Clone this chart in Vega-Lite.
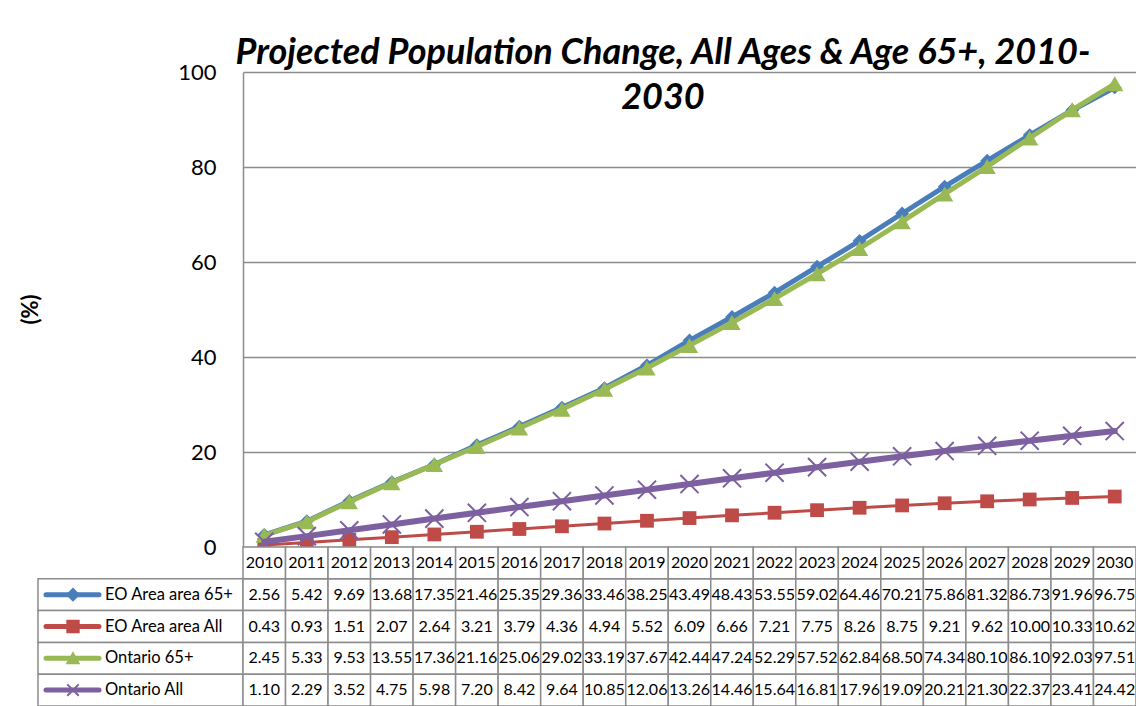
{
  "$schema": "https://vega.github.io/schema/vega-lite/v6.json",
  "padding": {"left": 19, "top": 35, "right": 0, "bottom": 0},
  "config": {"font": "Lato", "view": {"stroke": null}},
  "title": {
    "text": ["Projected Population Change, All Ages & Age 65+, 2010-", "2030"],
    "font": "Lato",
    "fontSize": 36,
    "fontWeight": "bold",
    "fontStyle": "italic",
    "color": "black",
    "anchor": "start",
    "align": "center",
    "frame": "group",
    "dx": 625,
    "lineHeight": 45,
    "offset": -56
  },
  "datasets": {
    "pop": [
      {"year": "2010", "series": "EO Area area 65+", "value": 2.56},
      {"year": "2011", "series": "EO Area area 65+", "value": 5.42},
      {"year": "2012", "series": "EO Area area 65+", "value": 9.69},
      {"year": "2013", "series": "EO Area area 65+", "value": 13.68},
      {"year": "2014", "series": "EO Area area 65+", "value": 17.35},
      {"year": "2015", "series": "EO Area area 65+", "value": 21.46},
      {"year": "2016", "series": "EO Area area 65+", "value": 25.35},
      {"year": "2017", "series": "EO Area area 65+", "value": 29.36},
      {"year": "2018", "series": "EO Area area 65+", "value": 33.46},
      {"year": "2019", "series": "EO Area area 65+", "value": 38.25},
      {"year": "2020", "series": "EO Area area 65+", "value": 43.49},
      {"year": "2021", "series": "EO Area area 65+", "value": 48.43},
      {"year": "2022", "series": "EO Area area 65+", "value": 53.55},
      {"year": "2023", "series": "EO Area area 65+", "value": 59.02},
      {"year": "2024", "series": "EO Area area 65+", "value": 64.46},
      {"year": "2025", "series": "EO Area area 65+", "value": 70.21},
      {"year": "2026", "series": "EO Area area 65+", "value": 75.86},
      {"year": "2027", "series": "EO Area area 65+", "value": 81.32},
      {"year": "2028", "series": "EO Area area 65+", "value": 86.73},
      {"year": "2029", "series": "EO Area area 65+", "value": 91.96},
      {"year": "2030", "series": "EO Area area 65+", "value": 96.75},
      {"year": "2010", "series": "EO Area area All", "value": 0.43},
      {"year": "2011", "series": "EO Area area All", "value": 0.93},
      {"year": "2012", "series": "EO Area area All", "value": 1.51},
      {"year": "2013", "series": "EO Area area All", "value": 2.07},
      {"year": "2014", "series": "EO Area area All", "value": 2.64},
      {"year": "2015", "series": "EO Area area All", "value": 3.21},
      {"year": "2016", "series": "EO Area area All", "value": 3.79},
      {"year": "2017", "series": "EO Area area All", "value": 4.36},
      {"year": "2018", "series": "EO Area area All", "value": 4.94},
      {"year": "2019", "series": "EO Area area All", "value": 5.52},
      {"year": "2020", "series": "EO Area area All", "value": 6.09},
      {"year": "2021", "series": "EO Area area All", "value": 6.66},
      {"year": "2022", "series": "EO Area area All", "value": 7.21},
      {"year": "2023", "series": "EO Area area All", "value": 7.75},
      {"year": "2024", "series": "EO Area area All", "value": 8.26},
      {"year": "2025", "series": "EO Area area All", "value": 8.75},
      {"year": "2026", "series": "EO Area area All", "value": 9.21},
      {"year": "2027", "series": "EO Area area All", "value": 9.62},
      {"year": "2028", "series": "EO Area area All", "value": 10.00},
      {"year": "2029", "series": "EO Area area All", "value": 10.33},
      {"year": "2030", "series": "EO Area area All", "value": 10.62},
      {"year": "2010", "series": "Ontario 65+", "value": 2.45},
      {"year": "2011", "series": "Ontario 65+", "value": 5.33},
      {"year": "2012", "series": "Ontario 65+", "value": 9.53},
      {"year": "2013", "series": "Ontario 65+", "value": 13.55},
      {"year": "2014", "series": "Ontario 65+", "value": 17.36},
      {"year": "2015", "series": "Ontario 65+", "value": 21.16},
      {"year": "2016", "series": "Ontario 65+", "value": 25.06},
      {"year": "2017", "series": "Ontario 65+", "value": 29.02},
      {"year": "2018", "series": "Ontario 65+", "value": 33.19},
      {"year": "2019", "series": "Ontario 65+", "value": 37.67},
      {"year": "2020", "series": "Ontario 65+", "value": 42.44},
      {"year": "2021", "series": "Ontario 65+", "value": 47.24},
      {"year": "2022", "series": "Ontario 65+", "value": 52.29},
      {"year": "2023", "series": "Ontario 65+", "value": 57.52},
      {"year": "2024", "series": "Ontario 65+", "value": 62.84},
      {"year": "2025", "series": "Ontario 65+", "value": 68.50},
      {"year": "2026", "series": "Ontario 65+", "value": 74.34},
      {"year": "2027", "series": "Ontario 65+", "value": 80.10},
      {"year": "2028", "series": "Ontario 65+", "value": 86.10},
      {"year": "2029", "series": "Ontario 65+", "value": 92.03},
      {"year": "2030", "series": "Ontario 65+", "value": 97.51},
      {"year": "2010", "series": "Ontario All", "value": 1.10},
      {"year": "2011", "series": "Ontario All", "value": 2.29},
      {"year": "2012", "series": "Ontario All", "value": 3.52},
      {"year": "2013", "series": "Ontario All", "value": 4.75},
      {"year": "2014", "series": "Ontario All", "value": 5.98},
      {"year": "2015", "series": "Ontario All", "value": 7.20},
      {"year": "2016", "series": "Ontario All", "value": 8.42},
      {"year": "2017", "series": "Ontario All", "value": 9.64},
      {"year": "2018", "series": "Ontario All", "value": 10.85},
      {"year": "2019", "series": "Ontario All", "value": 12.06},
      {"year": "2020", "series": "Ontario All", "value": 13.26},
      {"year": "2021", "series": "Ontario All", "value": 14.46},
      {"year": "2022", "series": "Ontario All", "value": 15.64},
      {"year": "2023", "series": "Ontario All", "value": 16.81},
      {"year": "2024", "series": "Ontario All", "value": 17.96},
      {"year": "2025", "series": "Ontario All", "value": 19.09},
      {"year": "2026", "series": "Ontario All", "value": 20.21},
      {"year": "2027", "series": "Ontario All", "value": 21.30},
      {"year": "2028", "series": "Ontario All", "value": 22.37},
      {"year": "2029", "series": "Ontario All", "value": 23.41},
      {"year": "2030", "series": "Ontario All", "value": 24.42}
    ]
  },
  "columns": 2,
  "spacing": 0,
  "bounds": "flush",
  "concat": [
    {
      "width": 205,
      "height": 475,
      "data": {"values": [{}]},
      "mark": {"type": "point", "opacity": 0},
      "encoding": {}
    },
    {
      "width": 893,
      "height": 475,
      "data": {"name": "pop"},
      "encoding": {
        "x": {"field": "year", "type": "ordinal", "scale": {"type": "point", "padding": 0.5}, "axis": null},
        "y": {
          "field": "value",
          "type": "quantitative",
          "scale": {"domain": [0, 100], "nice": false},
          "axis": {
            "values": [0, 20, 40, 60, 80, 100],
            "grid": true,
            "gridColor": "#8c8c8c",
            "gridWidth": 1.5,
            "domainColor": "#8c8c8c",
            "domainWidth": 1.5,
            "ticks": false,
            "labelFontSize": 22,
            "labelColor": "black",
            "labelPadding": 27,
            "title": "(%)",
            "titleFontSize": 22,
            "titleFontWeight": "bold",
            "titleColor": "black",
            "titleX": -213,
            "titleY": 237,
            "titleBaseline": "middle",
            "titleAngle": 270
          }
        }
      },
      "layer": [
        {
          "transform": [{"filter": "datum.series == 'EO Area area 65+'"}],
          "mark": {"type": "line", "color": "#4a7ebb", "strokeWidth": 5, "strokeCap": "round", "strokeJoin": "round"}
        },
        {
          "transform": [{"filter": "datum.series == 'EO Area area 65+'"}],
          "mark": {"type": "point", "shape": "diamond", "filled": true, "opacity": 1, "color": "#4a7ebb", "size": 190}
        },
        {
          "transform": [{"filter": "datum.series == 'EO Area area All'"}],
          "mark": {"type": "line", "color": "#be4b48", "strokeWidth": 3, "strokeCap": "round", "strokeJoin": "round"}
        },
        {
          "transform": [{"filter": "datum.series == 'EO Area area All'"}],
          "mark": {"type": "point", "shape": "square", "filled": true, "opacity": 1, "color": "#be4b48", "size": 190}
        },
        {
          "transform": [{"filter": "datum.series == 'Ontario 65+'"}],
          "mark": {"type": "line", "color": "#98b954", "strokeWidth": 5, "strokeCap": "round", "strokeJoin": "round"}
        },
        {
          "transform": [{"filter": "datum.series == 'Ontario 65+'"}],
          "mark": {"type": "point", "shape": "triangle-up", "filled": true, "opacity": 1, "color": "#98b954", "size": 300}
        },
        {
          "transform": [{"filter": "datum.series == 'Ontario All'"}],
          "mark": {"type": "line", "color": "#7d60a0", "strokeWidth": 6, "strokeCap": "round", "strokeJoin": "round"}
        },
        {
          "transform": [{"filter": "datum.series == 'Ontario All'"}],
          "mark": {"type": "point", "shape": "M-1,-1L1,1M-1,1L1,-1", "filled": false, "opacity": 1, "color": "#7d60a0", "strokeWidth": 2, "size": 330}
        }
      ]
    },
    {
      "width": 205,
      "height": 159,
      "data": {"name": "pop"},
      "transform": [{"filter": "datum.year == '2010'"}],
      "encoding": {
        "y": {"field": "series", "type": "nominal", "axis": null,
          "scale": {"type": "band", "domain": ["Year", "EO Area area 65+", "EO Area area All", "Ontario 65+", "Ontario All"], "paddingInner": 0, "paddingOuter": 0}}
      },
      "layer": [
        {
          "mark": {"type": "rect", "fill": "white", "stroke": "#8c8c8c", "strokeWidth": 1.5},
          "encoding": {
            "x": {"datum": 0, "type": "quantitative", "scale": {"domain": [0, 205], "nice": false}, "axis": null},
            "x2": {"datum": 205}
          }
        },
        {
          "mark": {"type": "rule", "strokeWidth": 5, "strokeCap": "round"},
          "encoding": {
            "x": {"datum": 8, "type": "quantitative"},
            "x2": {"datum": 61},
            "color": {"field": "series", "type": "nominal", "legend": null,
              "scale": {"domain": ["EO Area area 65+", "EO Area area All", "Ontario 65+", "Ontario All"], "range": ["#4a7ebb", "#be4b48", "#98b954", "#7d60a0"]}}
          }
        },
        {
          "mark": {"type": "point", "filled": true, "opacity": 1, "strokeWidth": 2, "size": 130},
          "encoding": {
            "x": {"datum": 35, "type": "quantitative"},
            "color": {"field": "series", "type": "nominal", "legend": null,
              "scale": {"domain": ["EO Area area 65+", "EO Area area All", "Ontario 65+", "Ontario All"], "range": ["#4a7ebb", "#be4b48", "#98b954", "#7d60a0"]}},
            "stroke": {"field": "series", "type": "nominal", "legend": null,
              "scale": {"domain": ["EO Area area 65+", "EO Area area All", "Ontario 65+", "Ontario All"], "range": ["#4a7ebb", "#be4b48", "#98b954", "#7d60a0"]}},
            "shape": {"field": "series", "type": "nominal", "legend": null,
              "scale": {"domain": ["EO Area area 65+", "EO Area area All", "Ontario 65+", "Ontario All"], "range": ["diamond", "square", "triangle-up", "M-1,-1L1,1M-1,1L1,-1"]}}
          }
        },
        {
          "mark": {"type": "text", "align": "left", "baseline": "middle", "fontSize": 16.5, "color": "black"},
          "encoding": {
            "x": {"datum": 67, "type": "quantitative"},
            "text": {"field": "series", "type": "nominal"}
          }
        }
      ]
    },
    {
      "width": 893,
      "height": 159,
      "data": {"name": "pop"},
      "encoding": {
        "x": {"field": "year", "type": "ordinal", "axis": null,
          "scale": {"type": "band", "paddingInner": 0, "paddingOuter": 0}}
      },
      "layer": [
        {
          "mark": {"type": "rect", "fill": "white", "stroke": "#8c8c8c", "strokeWidth": 1.5},
          "encoding": {
            "y": {"field": "series", "type": "nominal", "axis": null,
              "scale": {"type": "band", "domain": ["Year", "EO Area area 65+", "EO Area area All", "Ontario 65+", "Ontario All"], "paddingInner": 0, "paddingOuter": 0}}
          }
        },
        {
          "transform": [{"filter": "datum.series == 'EO Area area 65+'"}],
          "mark": {"type": "rect", "fill": "white", "stroke": "#8c8c8c", "strokeWidth": 1.5},
          "encoding": {
            "y": {"datum": "Year", "type": "nominal"}
          }
        },
        {
          "mark": {"type": "text", "align": "center", "baseline": "middle", "fontSize": 16, "color": "black"},
          "encoding": {
            "y": {"field": "series", "type": "nominal"},
            "text": {"field": "value", "type": "quantitative", "format": ".2f"}
          }
        },
        {
          "transform": [{"filter": "datum.series == 'EO Area area 65+'"}],
          "mark": {"type": "text", "align": "center", "baseline": "middle", "fontSize": 16, "color": "black"},
          "encoding": {
            "y": {"datum": "Year", "type": "nominal"},
            "text": {"field": "year", "type": "nominal"}
          }
        }
      ]
    }
  ]
}
